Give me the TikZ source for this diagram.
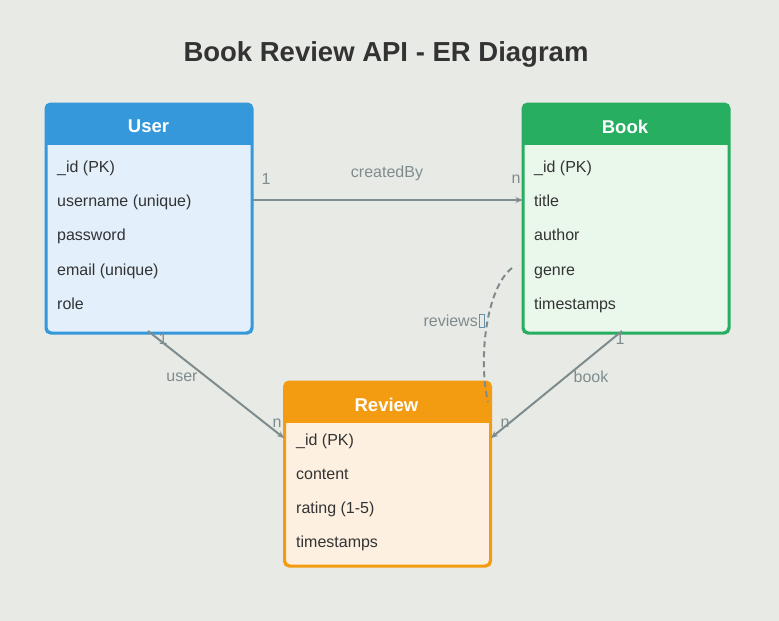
\documentclass[tikz,border=0pt]{standalone}
\usepackage{fontspec}
\setmainfont{Liberation Sans}
\usetikzlibrary{arrows.meta,calc}
\definecolor{bg}{HTML}{E8EAE6}
\definecolor{ublue}{HTML}{3498DB}
\definecolor{ubluel}{HTML}{E3F0FC}
\definecolor{bgreen}{HTML}{27AE60}
\definecolor{bgreenl}{HTML}{EAF8EC}
\definecolor{rorange}{HTML}{F39C12}
\definecolor{rorangel}{HTML}{FDF0E0}
\definecolor{edgec}{HTML}{7F8C8D}
\definecolor{txt}{HTML}{333333}
\tikzset{
  ent/.style={draw=#1, line width=2pt, rounded corners=5pt, minimum width=205pt, anchor=north west, inner sep=0pt},
  attr/.style={anchor=base west, font=\fontsize{16}{19}\selectfont, text=txt, inner sep=0pt},
  hdr/.style={font=\bfseries\fontsize{18.5}{22}\selectfont, text=white, inner sep=0pt},
  lbl/.style={font=\fontsize{16}{18}\selectfont, text=edgec, inner sep=0pt},
  rel/.style={draw=edgec, line width=2pt, -{Stealth[length=7pt,width=6pt]}},
}
\begin{document}
\begin{tikzpicture}[x=1pt,y=-1pt]
\fill[bg] (0,0) rectangle (779,621);
\useasboundingbox (0,0) rectangle (779,621);
\node[font=\bfseries\fontsize{27.5}{32}\selectfont, text=txt] (title) at (386,54) {Book Review API - ER Diagram};

% User
\node[ent=ublue, fill=ubluel, minimum height=228pt] (user) at (45.5,103.5) {};
\begin{scope}
\clip[rounded corners=5pt] (user.north west) rectangle (user.south east);
\fill[ublue] (user.north west) rectangle ($(user.north east)+(0,41)$);
\end{scope}
\draw[ublue, line width=2pt, rounded corners=5pt] (user.north west) rectangle (user.south east);
\node[hdr] (userh) at (148.5,126.5) {User};
\node[attr] (u1) at (57,172) {\_id (PK)};
\node[attr] (u2) at (57,206) {username (unique)};
\node[attr] (u3) at (57,240.5) {password};
\node[attr] (u4) at (57,275) {email (unique)};
\node[attr] (u5) at (57,309) {role};

% Book
\node[ent=bgreen, fill=bgreenl, minimum height=228pt] (book) at (522.5,103.5) {};
\begin{scope}
\clip[rounded corners=5pt] (book.north west) rectangle (book.south east);
\fill[bgreen] (book.north west) rectangle ($(book.north east)+(0,41)$);
\end{scope}
\draw[bgreen, line width=2pt, rounded corners=5pt] (book.north west) rectangle (book.south east);
\node[hdr] (bookh) at (625,126.5) {Book};
\node[attr] (b1) at (534,172) {\_id (PK)};
\node[attr] (b2) at (534,206) {title};
\node[attr] (b3) at (534,240.5) {author};
\node[attr] (b4) at (534,275) {genre};
\node[attr] (b5) at (534,309) {timestamps};

% Review
\node[ent=rorange, fill=rorangel, minimum height=183pt] (review) at (284,381.5) {};
\begin{scope}
\clip[rounded corners=5pt] (review.north west) rectangle (review.south east);
\fill[rorange] (review.north west) rectangle ($(review.north east)+(0,41)$);
\end{scope}
\draw[rorange, line width=2pt, rounded corners=5pt] (review.north west) rectangle (review.south east);
\node[hdr] (reviewh) at (386.5,404.5) {Review};
\node[attr] (r1) at (296,445) {\_id (PK)};
\node[attr] (r2) at (296,479) {content};
\node[attr] (r3) at (296,513) {rating (1-5)};
\node[attr] (r4) at (296,547) {timestamps};

% connectors
\coordinate (cbs) at (user.east |- 0,200);
\coordinate (cbe) at (book.west |- 0,200);
\draw[rel] (cbs) -- (cbe);
\node[lbl] (cbl) at (387,173) {createdBy};
\node[lbl] (cb1) at (266,179) {1};
\node[lbl] (cbn) at (516,179) {n};

\coordinate (us) at (148,331);
\coordinate (ue) at (review.west |- 0,438);
\draw[rel] (us) -- (ue);
\node[lbl] (ul) at (182,377) {user};
\node[lbl] (u1l) at (163,339) {1};
\node[lbl] (unl) at (277,423) {n};

\coordinate (bs) at (622,331);
\coordinate (be) at (review.east |- 0,438);
\draw[rel] (bs) -- (be);
\node[lbl] (bl) at (591,377) {book};
\node[lbl] (b1l) at (620,339) {1};
\node[lbl] (bnl) at (505,423) {n};

\coordinate (rs) at (512,268);
\coordinate (re) at (488,402);
\draw[edgec, line width=2pt, dash pattern=on 6pt off 4pt] (rs) .. controls (486,288) and (478,360) .. (re);
\node[lbl, anchor=east] (rl) at (478,321) {reviews};
\draw[edgec!60!ublue, line width=0.7pt] ($(rl.east)+(1.5,-6.5)$) rectangle ($(rl.east)+(6.5,6.5)$);
\end{tikzpicture}
\end{document}
